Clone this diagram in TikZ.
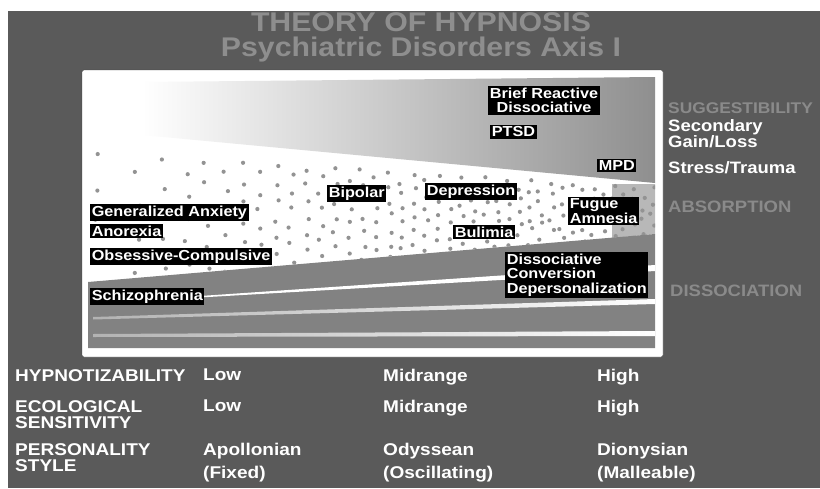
\documentclass[tikz,border=0pt]{standalone}
\usepackage{fontspec}
\newfontfamily\slidefont[FakeStretch=1.12]{Liberation Sans}
\usepackage{tikz}
\usetikzlibrary{positioning}
\definecolor{slidebg}{HTML}{5A5A5A}
\definecolor{titlegray}{HTML}{8E8E8E}
\definecolor{axisgray}{HTML}{8A8A8A}
\definecolor{bandgray}{HTML}{828282}
\definecolor{dotgray}{HTML}{939393}
\tikzset{
  disorder/.style = {rectangle, fill=black, text=white, anchor=north west, inner sep=1.6pt,
    align=left, font=\slidefont\bfseries\fontsize{14.5}{14.5}\selectfont},
  axislabel/.style = {anchor=north west, inner sep=0pt, text=axisgray, align=left,
    font=\slidefont\bfseries\fontsize{16.5}{16.5}\selectfont},
  sidelabel/.style = {axislabel, text=white},
  rowlabel/.style = {anchor=north west, inner sep=0pt, text=white, align=left,
    font=\slidefont\bfseries\fontsize{17}{16}\selectfont},
  rowvalue/.style = {rowlabel, font=\slidefont\bfseries\fontsize{17}{23}\selectfont}
}

\begin{document}
\begin{tikzpicture}[x=1pt, y=-1pt]
\useasboundingbox (0,0) rectangle (820,488);
\fill[white] (0,0) rectangle (820,488);
\fill[slidebg] (8,11) rectangle (820,488);

% title
\node[anchor=north, inner sep=0pt, text=titlegray, align=center,
  font=\slidefont\bfseries\fontsize{27}{25.5}\selectfont] (title) at (421,12)
  {THEORY OF HYPNOSIS\\Psychiatric Disorders Axis I};

% panel
\fill[white, draw=black!75, rounded corners=2pt] (82,70) rectangle (663,357);

% suggestibility band
\shade[left color=white, middle color=black!35, right color=black!44]
  (142,82) -- (655,77) -- (655,183) -- (142,135) -- cycle;

% absorption dots
\fill[black!28] (612,184) -- (655,184) -- (655,234) -- (612,238) -- cycle;
\begin{scope}
\clip (88,148) -- (655,184) -- (655,234) -- (88,282) -- cycle;
\pgfmathsetseed{41}
\foreach \i in {0,...,40}{
  \pgfmathsetmacro{\px}{95+558*pow(\i/40,0.7)}
  \pgfmathsetmacro{\gap}{max(11,9.8*pow(max(\i,1)/40,-0.3))}
  \pgfmathsetmacro{\ptop}{150+(\px-88)*0.062}
  \pgfmathsetmacro{\pbot}{282-(\px-88)*0.085}
  \pgfmathtruncatemacro{\nr}{(\pbot-\ptop)/(1.1*\gap)}
  \foreach \j in {0,...,\nr}{
    \pgfmathsetmacro{\py}{\ptop+5+mod(\i,2)*0.55*\gap+1.1*\gap*\j+3*rand}
    \fill[dotgray] (\px+3*rand,\py) circle[radius=2.1];
  }
}
\end{scope}

% dissociation stripes
\fill[bandgray] (88,282) -- (655,234) -- (655,348) -- (88,348) -- cycle;
\fill[white] (200,296) -- (655,265) -- (655,271) -- (200,297.5) -- cycle;
\shade[left color=black!30, right color=white]
  (93,317) -- (655,299) -- (655,304) -- (93,319.5) -- cycle;
\shade[left color=black!30, right color=white]
  (93,334) -- (655,331) -- (655,336) -- (93,337) -- cycle;

% disorders
\node[disorder, align=center] (brief) at (488,86) {Brief Reactive\\Dissociative};
\node[disorder] (ptsd) at (490,125) {PTSD};
\node[disorder] (mpd) at (597,159) {MPD};
\node[disorder] (depression) at (425,183) {Depression};
\node[disorder] (bipolar) at (327,185) {Bipolar};
\node[disorder] (fugue) at (568,197) {Fugue\\Amnesia};
\node[disorder] (bulimia) at (453,225) {Bulimia};
\node[disorder] (anxiety) at (90,204) {Generalized Anxiety};
\node[disorder] (anorexia) at (90,224) {Anorexia};
\node[disorder] (ocd) at (90,248) {Obsessive-Compulsive};
\node[disorder] (schizo) at (90,288) {Schizophrenia};
\node[disorder] (dissoc) at (505,252) {Dissociative\\Conversion\\Depersonalization};

% axis labels
\node[axislabel, font=\slidefont\bfseries\fontsize{15.5}{16}\selectfont]
  (suggest) at (668,102) {SUGGESTIBILITY};
\node[sidelabel] (gain) at (668,119) {Secondary\\Gain/Loss};
\node[sidelabel] (stress) at (668,161) {Stress/Trauma};
\node[axislabel] (absorb) at (668,201) {ABSORPTION};
\node[axislabel] (dissocax) at (670,285) {DISSOCIATION};

% scales
\node[rowlabel] (hyp) at (15,369) {HYPNOTIZABILITY};
\node[rowlabel] (hyplow) at (203,369) {Low};
\node[rowlabel] (hypmid) at (383,369) {Midrange};
\node[rowlabel] (hyphigh) at (597,369) {High};
\node[rowlabel] (eco) at (15,400) {ECOLOGICAL\\SENSITIVITY};
\node[rowlabel] (ecolow) at (203,400) {Low};
\node[rowlabel] (ecomid) at (383,400) {Midrange};
\node[rowlabel] (ecohigh) at (597,400) {High};
\node[rowlabel] (pers) at (15,443) {PERSONALITY\\STYLE};
\node[rowvalue] (apol) at (203,443) {Apollonian\\(Fixed)};
\node[rowvalue] (odys) at (383,443) {Odyssean\\(Oscillating)};
\node[rowvalue] (diony) at (597,443) {Dionysian\\(Malleable)};

\end{tikzpicture}
\end{document}
